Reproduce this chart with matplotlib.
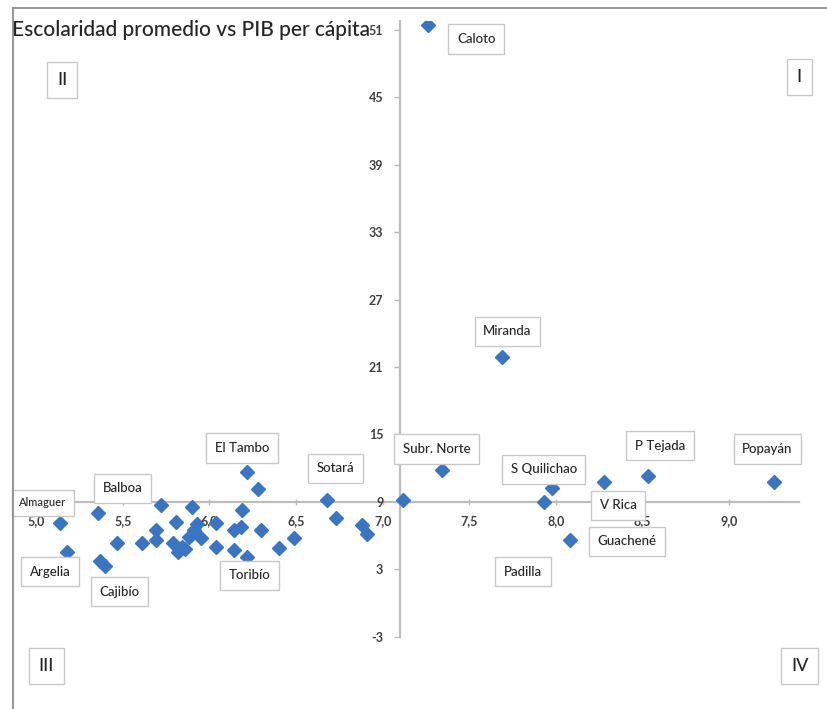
"""
plot.py

Escolaridad promedio vs PIB per cápita (municipios del Cauca).
Scatter with the axes crossing at the means, four quadrants.
"""

import matplotlib
matplotlib.use("Agg")
import matplotlib.pyplot as plt
from matplotlib.ticker import FuncFormatter
from matplotlib.lines import Line2D
import numpy as np

plt.rcParams["font.family"] = ["Lato", "DejaVu Sans"]

#####################################
# Data
#####################################

escolaridad = [5.14, 5.18, 5.36, 5.37, 5.40, 5.47, 5.61, 5.69, 5.69, 5.72,
               5.81, 5.79, 5.82, 5.84, 5.90, 5.88, 5.91, 5.93, 5.95, 5.86,
               6.04, 6.04, 6.14, 6.14, 6.18, 6.19, 6.22, 6.22, 6.28, 6.30,
               6.40, 6.49, 6.68, 6.73, 6.88, 6.91, 7.12, 7.34, 7.98, 7.93,
               8.08, 8.28, 8.53, 9.26, 7.26, 7.69]

pib = [7.1, 4.5, 8.0, 3.7, 3.3, 5.3, 5.3, 6.5, 5.6, 8.7,
       7.2, 5.3, 4.5, 5.0, 8.5, 5.9, 6.5, 7.0, 5.8, 4.8,
       7.1, 5.0, 4.7, 6.5, 6.8, 8.3, 4.1, 11.7, 10.1, 6.5,
       4.9, 5.8, 9.2, 7.6, 6.9, 6.1, 9.2, 11.8, 10.2, 9.0,
       5.6, 10.8, 11.3, 10.8, 51.4, 21.9]

# municipio labels and where their boxes sit (data coords)
etiquetas = ["Caloto", "Miranda", "El Tambo", "Sotará", "Subr. Norte",
             "S Quilichao", "V Rica", "Guachené", "P Tejada", "Popayán",
             "Padilla", "Toribío", "Cajibío", "Argelia", "Balboa", "Almaguer"]
etiqueta_x = [7.54, 7.72, 6.19, 6.73, 7.31, 7.93, 8.36, 8.41, 8.60, 9.22,
              7.81, 6.23, 5.48, 5.08, 5.50, 5.04]
etiqueta_y = [50.2, 24.2, 13.8, 12.0, 13.7, 11.9, 8.7, 5.5, 14.0, 13.7,
              2.8, 2.45, 1.0, 2.8, 10.2, 8.9]

x_ticks = np.arange(5.0, 9.01, 0.5)
y_ticks = np.arange(-3, 52, 6)

cuadrantes = ["II", "I", "III", "IV"]

#####################################
# Figure
#####################################

fig = plt.figure(figsize=(8.28, 7.09), dpi=100)
ax = fig.add_axes([0.0226, 0.102, 0.9418, 0.8684])

ax.plot(escolaridad, pib, linestyle="none", marker="D", markersize=6.8,
        color="#3a75c4", zorder=3)

ax.set_xlim(4.9, 9.4)
ax.set_ylim(-3, 51.8)

# axes cross at the means
for side in ["top", "right"]:
    ax.spines[side].set_visible(False)
ax.spines["left"].set_position(("data", 7.1))
ax.spines["bottom"].set_position(("data", 9))
for side in ["left", "bottom"]:
    ax.spines[side].set_color("#bdbdbd")
    ax.spines[side].set_linewidth(1.6)
    ax.spines[side].set_zorder(1)

ax.set_xticks(x_ticks)
ax.set_yticks(y_ticks)
ax.xaxis.set_major_formatter(FuncFormatter(lambda v, p: f"{v:.1f}".replace(".", ",")))
ax.yaxis.set_major_formatter(FuncFormatter(lambda v, p: f"{v:.0f}"))
ax.tick_params(axis="x", direction="inout", length=5, width=1, color="#bdbdbd",
               labelsize=9, labelcolor="#404040", pad=7)
ax.tick_params(axis="y", direction="out", length=4, width=1, color="#bdbdbd",
               labelsize=9, labelcolor="#404040", pad=8)
plt.setp(ax.get_xticklabels() + ax.get_yticklabels(), fontweight="bold")

# data labels
caja = dict(boxstyle="square,pad=0.65", facecolor="white", edgecolor="#c8c8c8", linewidth=1)
for nombre, lx, ly in zip(etiquetas, etiqueta_x, etiqueta_y):
    size = 8 if nombre == "Almaguer" else 9.5
    ax.text(lx, ly, nombre, ha="center", va="center", fontsize=size,
            color="#262626", fontweight="medium", bbox=caja, zorder=4, clip_on=False)

# quadrant tags
caja_q = dict(boxstyle="square,pad=0.55", facecolor="white", edgecolor="#c8c8c8", linewidth=1)
pos_q = [(0.075, 0.887), (0.965, 0.891), (0.056, 0.061), (0.966, 0.061)]
for tag, (qx, qy) in zip(cuadrantes, pos_q):
    fig.text(qx, qy, tag, ha="center", va="center", fontsize=13,
             color="#262626", fontweight="medium", bbox=caja_q)

# title
fig.text(12 / 828, 1 - 30 / 709, "Escolaridad promedio vs PIB per cápita",
         ha="left", va="center", fontsize=15, color="#262626", fontweight="medium")

# chart frame (top and left edges visible)
fig.add_artist(Line2D([13 / 828, 13 / 828], [0, 1 - 8 / 709],
                      transform=fig.transFigure, color="#9a9a9a", linewidth=1.5))
fig.add_artist(Line2D([13 / 828, 1], [1 - 8 / 709, 1 - 8 / 709],
                      transform=fig.transFigure, color="#9a9a9a", linewidth=1.5))

fig.savefig("out.png", dpi=100)
